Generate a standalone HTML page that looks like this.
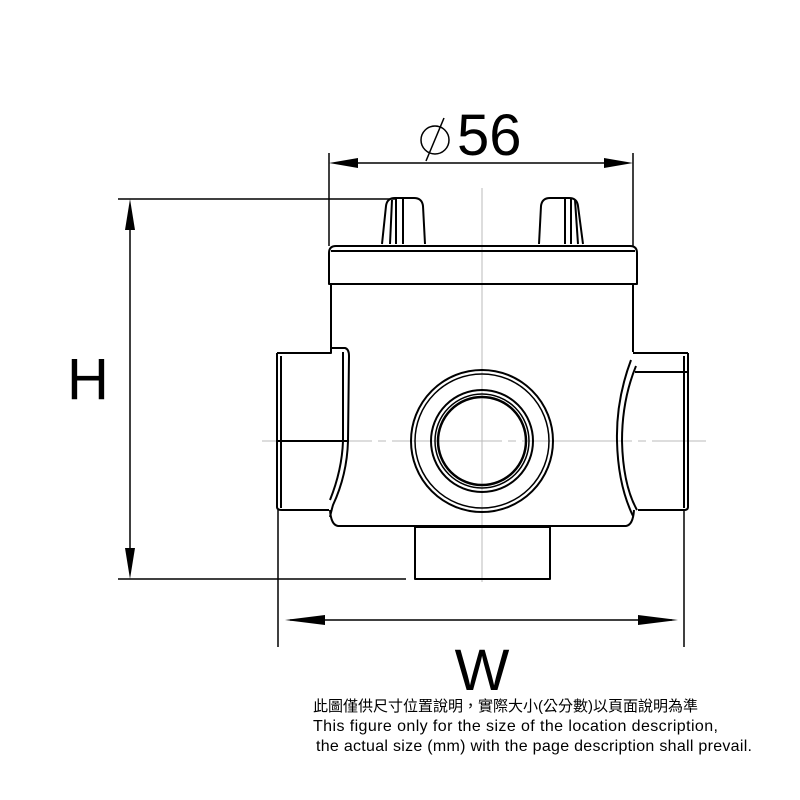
<!DOCTYPE html>
<html><head><meta charset="utf-8"><style>
html,body{margin:0;padding:0;background:#fff;}
svg{display:block;}
.t{font-family:"Liberation Sans","Noto Sans CJK TC",sans-serif;}
</style></head><body>
<svg width="800" height="800" viewBox="0 0 800 800" xmlns="http://www.w3.org/2000/svg">
<g stroke="#bbb" stroke-width="1" fill="none">
<line x1="482" y1="188" x2="482" y2="582"/>
<line x1="262" y1="441" x2="706" y2="441" stroke-dasharray="110 6 8 6"/>
</g>
<g stroke="#000" stroke-width="1.5" fill="none">
<line x1="329" y1="153" x2="329" y2="246"/>
<line x1="633" y1="153" x2="633" y2="246"/>
<line x1="340" y1="163" x2="622" y2="163"/>
<line x1="118" y1="199" x2="395" y2="199"/>
<line x1="118" y1="579" x2="406" y2="579"/>
<line x1="130" y1="210" x2="130" y2="568"/>
<line x1="278" y1="510" x2="278" y2="647"/>
<line x1="684" y1="510" x2="684" y2="647"/>
<line x1="290" y1="620" x2="672" y2="620"/>
<!-- diameter symbol -->
<ellipse cx="435" cy="140" rx="14" ry="14"/>
<line x1="426" y1="161" x2="444" y2="118"/>
</g>
<g fill="#000">
<polygon points="329,163 358,158 358,168"/>
<polygon points="633,163 604,158 604,168"/>
<polygon points="130,199 125,230 135,230"/>
<polygon points="130,579 125,548 135,548"/>
<polygon points="285,620 325,615 325,625"/>
<polygon points="678,620 638,615 638,625"/>
</g>
<g stroke="#000" stroke-width="2" fill="none" stroke-linejoin="round">
<path d="M382,244 L386,206 Q387,198 395,198 L414,198 Q422,198 423,206 L425,244"/>
<path d="M392,200 L390,244 M396,199 L396,244 M403,199 L403,244"/>
<path d="M539,244 L541,206 Q542,198 550,198 L569,198 Q577,198 578,206 L583,244"/>
<path d="M565,199 L565,244 M571,199 L571,244 M575,200 L578,244"/>
<path d="M329,284 L329,253 Q329,246 336,246 L630,246 Q637,246 637,253 L637,284 Z"/>
<line x1="331" y1="251" x2="635" y2="251"/>
<path d="M331,284 L331,348 M633,284 L633,352"/>
<path d="M330,510 Q331,525 338,526 L626,526 Q633,525 634,510"/>
<path d="M277,353 L277,507 Q277,510 282,510 L329,510"/>
<path d="M277,353 L331,353 L331,348 L345,348 Q349,349 349,356 L348,441 Q347,475 333,505 Q331,512 330,517"/>
<line x1="281" y1="356" x2="281" y2="508"/>
<line x1="278" y1="441" x2="348" y2="441"/>
<path d="M343,352 L343,441 Q342,470 330,500"/>
<path d="M688,353 L688,507 Q688,510 684,510 L638,510"/>
<path d="M633,353 L688,353"/>
<path d="M635,372 L688,372"/>
<path d="M636,366 Q622,400 622,441 Q623,485 637,510"/>
<path d="M631,360 Q616,400 617,441 Q618,485 633,516"/>
<line x1="684" y1="356" x2="684" y2="508"/>
<rect x="415" y="527" width="135" height="52"/>
<circle cx="482" cy="441" r="71"/>
<circle cx="482" cy="441" r="67" stroke-width="1.5"/>
<circle cx="482" cy="441" r="51"/>
<circle cx="482" cy="441" r="47" stroke-width="1.5"/>
<circle cx="482" cy="441" r="44" stroke-width="2.5"/>
</g>
<text class="t" x="457" y="155" font-size="58">56</text>
<text class="t" x="88" y="399" font-size="58" text-anchor="middle">H</text>
<text class="t" x="482" y="690" font-size="58" text-anchor="middle">W</text>
<text class="t" x="313" y="711" font-size="15">此圖僅供尺寸位置說明，實際大小(公分數)以頁面說明為準</text>
<text class="t" x="313" y="731" font-size="16" textLength="405">This figure only for the size of the location description,</text>
<text class="t" x="316" y="751" font-size="16" textLength="436">the actual size (mm) with the page description shall prevail.</text>
</svg>
</body></html>
